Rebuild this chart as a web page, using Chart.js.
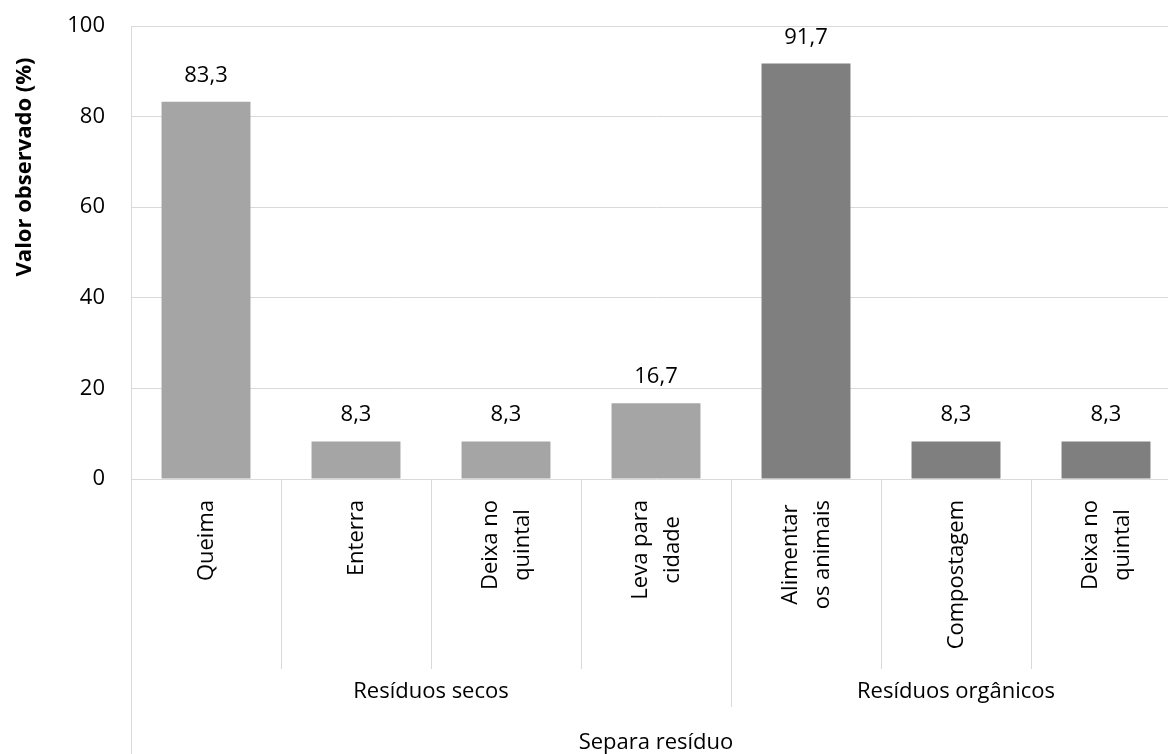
<!DOCTYPE html>
<html lang="pt">
<head>
<meta charset="utf-8">
<title>Separa resíduo</title>
<script src="https://cdn.jsdelivr.net/npm/chart.js@4/dist/chart.umd.min.js"></script>
<style>
    html, body { margin: 0; padding: 0; background: #fff; overflow: hidden; }
    #wrap { width: 1190px; height: 754px; position: relative; }
</style>
</head>
<body>
<div id="wrap"><canvas id="residuosChart"></canvas></div>
<script>
// Data
const categories = [
    ['Queima'],
    ['Enterra'],
    ['Deixa no', 'quintal'],
    ['Leva para', 'cidade'],
    ['Alimentar', 'os animais'],
    ['Compostagem'],
    ['Deixa no', 'quintal']
];
const values = [83.3, 8.3, 8.3, 16.7, 91.7, 8.3, 8.3];
const groupNames = ['Resíduos secos', 'Resíduos orgânicos'];
const groupSizes = [4, 3];
const yTicks = [0, 20, 40, 60, 80, 100];
const yTitle = 'Valor observado (%)';
const xTitle = 'Separa resíduo';

const FONT = '"Open Sans", "DejaVu Sans", sans-serif';
const FONT_SIZE = 22;
const GRID = '#D9D9D9';
const groupColors = ['#A5A5A5', '#7F7F7F'];

// colour of each bar follows its group
const barColors = [];
groupSizes.forEach((n, g) => {
    for (let i = 0; i < n; i++) barColors.push(groupColors[g]);
});

function fmt(v) {
    return v.toFixed(1).replace('.', ',');
}

/**
 * Draws value labels, the multi-level category axis and both axis titles
 */
const axisPlugin = {
    id: 'multiLevelAxis',
    afterDatasetsDraw(chart) {
        const ctx = chart.ctx;
        const xs = chart.scales.x;
        const area = chart.chartArea;
        const meta = chart.getDatasetMeta(0);
        const step = xs.getPixelForValue(1) - xs.getPixelForValue(0);
        const bottom = chart.height;

        ctx.save();

        // value labels above bars
        ctx.fillStyle = '#000';
        ctx.font = FONT_SIZE + 'px ' + FONT;
        ctx.textAlign = 'center';
        ctx.textBaseline = 'alphabetic';
        meta.data.forEach((bar, i) => {
            ctx.fillText(fmt(values[i]), bar.x, bar.y - 20);
        });

        // separators under the axis
        ctx.strokeStyle = GRID;
        ctx.lineWidth = 1;
        const line = (x, y0, y1) => {
            ctx.beginPath();
            ctx.moveTo(Math.round(x) + 0.5, y0);
            ctx.lineTo(Math.round(x) + 0.5, y1);
            ctx.stroke();
        };
        line(area.left, area.bottom, bottom);
        let idx = 0;
        const groupEdges = [];
        groupSizes.forEach(n => {
            idx += n;
            groupEdges.push(idx);
        });
        for (let i = 1; i <= categories.length; i++) {
            const x = xs.getPixelForValue(i) - step / 2;
            if (groupEdges.includes(i)) {
                line(x, area.bottom, area.bottom + 228);
            } else {
                line(x, area.bottom, area.bottom + 190);
            }
        }

        // rotated category labels
        ctx.textBaseline = 'middle';
        ctx.textAlign = 'center';
        const lineGap = 32;
        categories.forEach((lines, i) => {
            const cx = xs.getPixelForValue(i);
            const maxW = Math.max(...lines.map(t => ctx.measureText(t).width));
            lines.forEach((t, j) => {
                const off = (j - (lines.length - 1) / 2) * lineGap;
                ctx.save();
                ctx.translate(cx + off, area.bottom + 21);
                ctx.rotate(-Math.PI / 2);
                ctx.fillText(t, -maxW / 2, 1);
                ctx.restore();
            });
        });

        // group labels
        ctx.textBaseline = 'alphabetic';
        let start = 0;
        groupSizes.forEach((n, g) => {
            const x0 = xs.getPixelForValue(start) - step / 2;
            const x1 = xs.getPixelForValue(start + n - 1) + step / 2;
            ctx.fillText(groupNames[g], (x0 + x1) / 2, 698);
            start += n;
        });

        // x axis title
        ctx.fillText(xTitle, (area.left + area.right) / 2, 749);

        // y axis title
        ctx.font = 'bold ' + FONT_SIZE + 'px ' + FONT;
        ctx.textBaseline = 'middle';
        ctx.save();
        ctx.translate(25, 167);
        ctx.rotate(-Math.PI / 2);
        ctx.fillText(yTitle, 0, 0);
        ctx.restore();

        ctx.restore();
    }
};

const ctx = document.getElementById('residuosChart').getContext('2d');

const residuosChart = new Chart(ctx, {
    type: 'bar',
    data: {
        labels: categories,
        datasets: [{
            data: values,
            backgroundColor: barColors,
            borderWidth: 0,
            categoryPercentage: 1,
            barPercentage: 0.593
        }]
    },
    options: {
        responsive: true,
        maintainAspectRatio: false,
        animation: false,
        devicePixelRatio: 1,
        layout: {
            padding: { top: 26, right: 9, bottom: 275, left: 0 }
        },
        plugins: {
            legend: { display: false },
            tooltip: { enabled: false }
        },
        scales: {
            x: {
                display: false
            },
            y: {
                min: 0,
                max: 100,
                afterFit: scale => {
                    scale.width = 131;
                    scale.paddingTop = 0;
                    scale.paddingBottom = 0;
                },
                afterBuildTicks: scale => {
                    scale.ticks = yTicks.map(v => ({ value: v }));
                },
                grid: {
                    color: GRID,
                    lineWidth: 1,
                    drawTicks: false
                },
                border: { display: true, color: GRID },
                ticks: {
                    color: '#000',
                    padding: 26,
                    font: { family: FONT, size: FONT_SIZE }
                }
            }
        }
    },
    plugins: [axisPlugin]
});
</script>
</body>
</html>
